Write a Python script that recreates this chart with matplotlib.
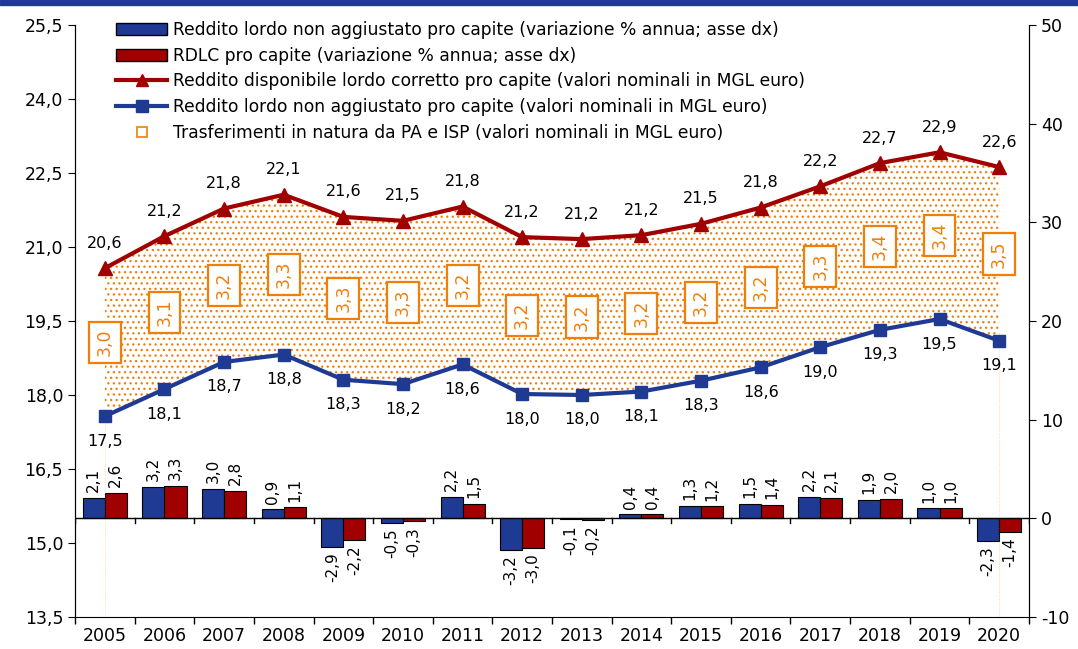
import numpy as np
import matplotlib
matplotlib.use("Agg")
import matplotlib.pyplot as plt
from matplotlib.lines import Line2D
from matplotlib.patches import Patch, Rectangle

plt.rcParams['font.family'] = ['DejaVu Sans']
plt.rcParams['hatch.linewidth'] = 0.9
plt.rcParams['axes.unicode_minus'] = False

# dati
anni = ['2005', '2006', '2007', '2008', '2009', '2010', '2011', '2012',
        '2013', '2014', '2015', '2016', '2017', '2018', '2019', '2020']
rdlc = [20.57, 21.22, 21.78, 22.06, 21.61, 21.53, 21.82, 21.20,
        21.16, 21.24, 21.47, 21.80, 22.23, 22.70, 22.92, 22.62]
rdlc_lab = [20.6, 21.2, 21.8, 22.1, 21.6, 21.5, 21.8, 21.2,
            21.2, 21.2, 21.5, 21.8, 22.2, 22.7, 22.9, 22.6]
rlna = [17.57, 18.12, 18.67, 18.82, 18.31, 18.22, 18.62, 18.02,
        18.00, 18.07, 18.29, 18.56, 18.97, 19.32, 19.54, 19.10]
rlna_lab = [17.5, 18.1, 18.7, 18.8, 18.3, 18.2, 18.6, 18.0,
            18.0, 18.1, 18.3, 18.6, 19.0, 19.3, 19.5, 19.1]
trasf = [3.0, 3.1, 3.2, 3.3, 3.3, 3.3, 3.2, 3.2,
         3.2, 3.2, 3.2, 3.2, 3.3, 3.4, 3.4, 3.5]
var_rlna = [2.1, 3.2, 3.0, 0.9, -2.9, -0.5, 2.2, -3.2,
            -0.1, 0.4, 1.3, 1.5, 2.2, 1.9, 1.0, -2.3]
var_rdlc = [2.6, 3.3, 2.8, 1.1, -2.2, -0.3, 1.5, -3.0,
            -0.2, 0.4, 1.2, 1.4, 2.1, 2.0, 1.0, -1.4]

BLU = '#1f3a93'
ROSSO = '#a00000'
ARANCIO = '#f07f09'

def fmt(v):
    return f"{v:.1f}".replace('.', ',')

x = np.arange(len(anni))

fig = plt.figure(figsize=(10.78, 6.49), dpi=100)
fig.patches.append(Rectangle((0, 0.992), 1, 0.008, transform=fig.transFigure,
                             color=BLU, zorder=10))
ax = fig.add_axes([0.0696, 0.0493, 0.8849, 0.9122])
ax2 = ax.twinx()
ax.set_zorder(ax2.get_zorder() + 1)
ax.patch.set_visible(False)

# barre sull'asse destro
w = 0.37
ax2.bar(x - w / 2, var_rlna, w, color=BLU, edgecolor='black', linewidth=0.8)
ax2.bar(x + w / 2, var_rdlc, w, color=ROSSO, edgecolor='black', linewidth=0.8)
ax2.axhline(0, color='black', lw=1)
for xb in np.arange(-0.5, len(anni), 1.0):
    ax2.plot([xb, xb], [0, -0.5], color='black', lw=1)
for serie, dx in [(var_rlna, -w / 2), (var_rdlc, w / 2)]:
    for xi, v in zip(x, serie):
        ax2.annotate(fmt(v), (xi + dx, v), xytext=(0, 4 if v >= 0 else -4),
                     textcoords='offset points', rotation=90, ha='center',
                     va='bottom' if v >= 0 else 'top', fontsize=11)
ax2.set_ylim(-10, 50)
ax2.set_yticks(range(-10, 51, 10))

# area trasferimenti
ax.fill_between(x, rlna, rdlc, facecolor='none', edgecolor=ARANCIO,
                hatch='...', linewidth=0)
ax.vlines([x[0], x[-1]], 13.5, [rlna[0], rlna[-1]], color=ARANCIO, lw=0.6,
          ls=':', alpha=0.4)
for xi, lo, hi, t in zip(x, rlna, rdlc, trasf):
    ax.text(xi, (lo + hi) / 2, fmt(t), rotation=90, ha='center', va='center',
            color=ARANCIO, fontsize=12.5,
            bbox=dict(boxstyle='square,pad=0.4', fc='white', ec=ARANCIO, lw=1.6))

# linee
ax.plot(x, rdlc, color=ROSSO, lw=3, marker='^', ms=10)
ax.plot(x, rlna, color=BLU, lw=3, marker='s', ms=9)
for xi, v, lab in zip(x, rdlc, rdlc_lab):
    ax.annotate(fmt(lab), (xi, v), xytext=(0, 18), textcoords='offset points',
                ha='center', va='center', fontsize=11.5)
for xi, v, lab in zip(x, rlna, rlna_lab):
    ax.annotate(fmt(lab), (xi, v), xytext=(0, -18), textcoords='offset points',
                ha='center', va='center', fontsize=11.5)

ax.set_xlim(-0.5, len(anni) - 0.5)
ax.set_ylim(13.5, 25.5)
ax.set_yticks(np.arange(13.5, 25.6, 1.5))
ax.set_yticklabels([fmt(v) for v in np.arange(13.5, 25.6, 1.5)])
ax.set_xticks(x)
ax.set_xticklabels(anni)
ax.set_xticks(np.arange(-0.5, len(anni), 1.0), minor=True)
ax.tick_params(axis='x', which='major', length=0, labelsize=12.5, pad=7)
ax.tick_params(axis='x', which='minor', length=5, width=1)
ax.tick_params(axis='y', length=5, labelsize=12.5)
ax2.tick_params(axis='y', length=5, labelsize=12.5)
for a in (ax, ax2):
    a.spines['top'].set_visible(False)
ax2.spines['bottom'].set_visible(False)

handles = [
    Patch(facecolor=BLU, edgecolor='black'),
    Patch(facecolor=ROSSO, edgecolor='black'),
    Line2D([], [], color=ROSSO, lw=3, marker='^', ms=8),
    Line2D([], [], color=BLU, lw=3, marker='s', ms=8),
    Line2D([], [], ls='none', marker='s', ms=7, mfc='white', mec=ARANCIO, mew=1.2),
]
labels = [
    'Reddito lordo non aggiustato pro capite (variazione % annua; asse dx)',
    'RDLC pro capite (variazione % annua; asse dx)',
    'Reddito disponibile lordo corretto pro capite (valori nominali in MGL euro)',
    'Reddito lordo non aggiustato pro capite (valori nominali in MGL euro)',
    'Trasferimenti in natura da PA e ISP (valori nominali in MGL euro)',
]
ax.legend(handles, labels, loc='upper left', bbox_to_anchor=(0.027, 1.033),
          frameon=False, fontsize=12.3, handlelength=3.0, labelspacing=0.45,
          handletextpad=0.35)

fig.savefig('out.png', dpi=100)
